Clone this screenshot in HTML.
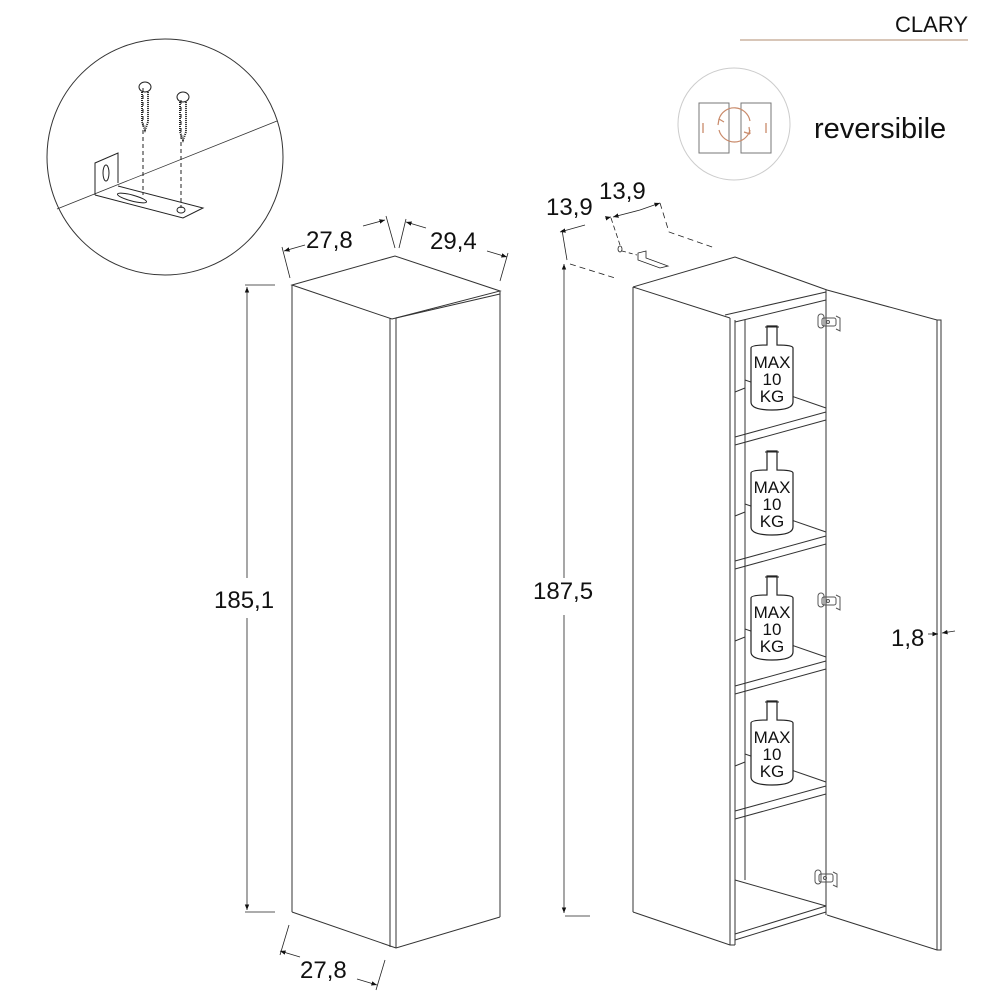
<!DOCTYPE html>
<html><head><meta charset="utf-8"><style>
html,body{margin:0;padding:0;background:#fff;}
svg{display:block;}
text{font-family:"Liberation Sans",sans-serif;fill:#111;}
</style></head><body>
<svg width="1000" height="1000" viewBox="0 0 1000 1000" xmlns="http://www.w3.org/2000/svg">
<defs>
<marker id="ar" viewBox="0 0 10 10" refX="10" refY="5" markerWidth="7" markerHeight="7" orient="auto-start-reverse"><path d="M0,1 L10,5 L0,9 z" fill="#111"/></marker>
<g id="bottle">
<path d="M767,0 L777,0 L777,19 Q793,19 793,22 L793,76 Q793,84 772,84 Q751,84 751,76 L751,22 Q751,19 767,19 Z" fill="#fff" stroke="#222" stroke-width="1.2"/>
<line x1="765" y1="1" x2="779" y2="1" stroke="#222"/>
<text x="772" y="42" font-size="17" text-anchor="middle">MAX</text>
<text x="772" y="59" font-size="17" text-anchor="middle">10</text>
<text x="772" y="76" font-size="17" text-anchor="middle">KG</text>
</g>
<g id="hinge" fill="none" stroke="#555" stroke-width="1">
<rect x="818" y="-8" width="6" height="14" rx="3"/>
<rect x="822" y="-4" width="14" height="8" rx="2"/>
<path d="M836,-6 L840,-4 L840,9 L836,7"/>
<circle cx="828" cy="0" r="1.5"/>
</g>
</defs>

<text x="968" y="32" font-size="22" text-anchor="end">CLARY</text>
<line x1="740" y1="40" x2="968" y2="40" stroke="#d8c6b8" stroke-width="2"/>

<circle cx="734" cy="124" r="56" fill="none" stroke="#ccc" stroke-width="1"/>
<rect x="699" y="103" width="30" height="50" fill="none" stroke="#777"/>
<rect x="741" y="103" width="30" height="50" fill="none" stroke="#777"/>
<line x1="703" y1="123" x2="703" y2="133" stroke="#c98a6a" stroke-width="1.3"/>
<line x1="766" y1="123" x2="766" y2="133" stroke="#c98a6a" stroke-width="1.3"/>
<path d="M719,119 A16,16 0 0 1 750,121" fill="none" stroke="#c98a6a" stroke-width="1.2"/>
<path d="M719,119 l-1,6 M719,119 l5,3" stroke="#c98a6a" stroke-width="1.2"/>
<path d="M750,130 A16,16 0 0 1 719,130" fill="none" stroke="#c98a6a" stroke-width="1.2"/>
<path d="M750,134 l-1,-7 M750,134 l-6,-2" stroke="#c98a6a" stroke-width="1.2"/>
<text x="814" y="138" font-size="29">reversibile</text>

<circle cx="165" cy="157" r="118" fill="none" stroke="#333" stroke-width="1"/>
<line x1="57" y1="209" x2="277" y2="121" stroke="#333" stroke-width="0.8"/>
<g stroke="#222" fill="none" stroke-width="1">
<path d="M95,195 L95,163 L118,153 L118,183"/>
<ellipse cx="106" cy="173" rx="3" ry="8"/>
<path d="M95,195 L183,218 L203,208 L118,186"/>
<ellipse cx="132" cy="198" rx="15" ry="3" transform="rotate(15 132 198)"/>
<ellipse cx="181" cy="210" rx="4" ry="3"/>
<line x1="143" y1="88" x2="143" y2="195" stroke-dasharray="4,3"/>
<line x1="181" y1="100" x2="181" y2="208" stroke-dasharray="4,3"/>
<ellipse cx="145" cy="87" rx="6" ry="5"/>
<path d="M142,92 L142,122 L145,130 L148,122 L148,92" stroke-width="2" stroke-dasharray="1,1"/>
<ellipse cx="183" cy="97" rx="6" ry="5"/>
<path d="M180,102 L180,132 L183,140 L186,132 L186,102" stroke-width="2" stroke-dasharray="1,1"/>
</g>

<g stroke="#333" fill="none" stroke-width="1">
<path d="M292,285 L395,256 L500,291 L392,319 Z"/>
<path d="M396,318 L500,294"/>
<line x1="292" y1="285" x2="292" y2="912"/>
<line x1="390" y1="318" x2="390" y2="947"/>
<line x1="396" y1="318" x2="396" y2="948"/>
<line x1="500" y1="291" x2="500" y2="917"/>
<path d="M292,912 L396,948 L500,917"/>
</g>
<g stroke="#222" stroke-width="0.8" fill="none">
<line x1="245" y1="285" x2="275" y2="285"/>
<line x1="245" y1="912" x2="275" y2="912"/>
<line x1="247" y1="287" x2="247" y2="578" marker-start="url(#ar)"/>
<line x1="247" y1="618" x2="247" y2="910" marker-end="url(#ar)"/>
<line x1="290" y1="278" x2="282" y2="247"/>
<line x1="395" y1="248" x2="386" y2="216"/>
<line x1="399" y1="248" x2="406" y2="219"/>
<line x1="500" y1="281" x2="508" y2="253"/>
<line x1="284" y1="251" x2="305" y2="245" marker-start="url(#ar)"/>
<line x1="363" y1="226" x2="385" y2="220" marker-end="url(#ar)"/>
<line x1="406" y1="222" x2="426" y2="228" marker-start="url(#ar)"/>
<line x1="487" y1="251" x2="507" y2="257" marker-end="url(#ar)"/>
<line x1="289" y1="925" x2="280" y2="955"/>
<line x1="385" y1="960" x2="376" y2="990"/>
<line x1="280" y1="951" x2="300" y2="957" marker-start="url(#ar)"/>
<line x1="357" y1="979" x2="377" y2="985" marker-end="url(#ar)"/>
</g>
<text x="306" y="248" font-size="24">27,8</text>
<text x="430" y="249" font-size="24">29,4</text>
<text x="214" y="608" font-size="24">185,1</text>
<text x="300" y="978" font-size="24">27,8</text>

<g stroke="#333" fill="none" stroke-width="1">
<path d="M633,287 L735,257 L827,290"/>
<path d="M633,287 L730,318"/>
<path d="M725,315 L826,292"/>
<path d="M735,322 L826,300"/>
<line x1="633" y1="287" x2="633" y2="912"/>
<line x1="730" y1="318" x2="730" y2="945"/>
<line x1="735" y1="320" x2="735" y2="945"/>
<line x1="745" y1="320" x2="745" y2="880"/>
<line x1="826" y1="290" x2="826" y2="915"/>
<path d="M633,912 L730,945 L735,945"/>
<path d="M827,290 L937,320 L941,320 L941,950 L937,950 L827,915"/>
<line x1="937" y1="320" x2="937" y2="950"/>
<path d="M735,940 L826,912"/>
<path d="M735,934 L826,906"/>
<path d="M735,880 L826,906"/>
</g>
<g stroke="#333" fill="none" stroke-width="1">
<path d="M735,437 L826,412 M735,445 L826,420 M735,392 L745,388 M745,380 L826,408"/>
<path d="M735,561 L826,536 M735,569 L826,544 M735,516 L745,512 M745,504 L826,532"/>
<path d="M735,686 L826,661 M735,694 L826,669 M735,641 L745,637 M745,629 L826,657"/>
<path d="M735,811 L826,786 M735,819 L826,794 M735,766 L745,762 M745,754 L826,782"/>
</g>
<use href="#bottle" transform="translate(0,326)"/>
<use href="#bottle" transform="translate(0,451)"/>
<use href="#bottle" transform="translate(0,576)"/>
<use href="#bottle" transform="translate(0,701)"/>
<use href="#hinge" transform="translate(0,322)"/>
<use href="#hinge" transform="translate(0,601)"/>
<use href="#hinge" transform="translate(-3,878)"/>

<g stroke="#222" stroke-width="0.8" fill="none">
<line x1="564" y1="264" x2="564" y2="578" marker-start="url(#ar)"/>
<line x1="564" y1="615" x2="564" y2="913" marker-end="url(#ar)"/>
<line x1="565" y1="916" x2="590" y2="916"/>
<path d="M570,264 L615,278" stroke-dasharray="6,4"/>
<path d="M562,230 L567,260"/>
<line x1="560" y1="232" x2="585" y2="225" marker-start="url(#ar)"/>
<line x1="607" y1="218" x2="611" y2="217" marker-end="url(#ar)"/>
<line x1="613" y1="217" x2="640" y2="210" marker-start="url(#ar)"/>
<line x1="640" y1="210" x2="660" y2="203" marker-end="url(#ar)"/>
<path d="M611,218 L620,245" stroke-dasharray="5,3"/>
<path d="M660,203 L669,232 L715,248" stroke-dasharray="6,4"/>
<path d="M622,251 L637,255" stroke-dasharray="4,3"/>
<ellipse cx="620" cy="249" rx="2" ry="3"/>
<path d="M638,253 L638,260 L660,268 L668,266 L646,258 L646,251 Z"/>
<line x1="928" y1="634" x2="938" y2="634" marker-end="url(#ar)"/>
<line x1="955" y1="631" x2="942" y2="633" marker-end="url(#ar)"/>
</g>
<text x="546" y="215" font-size="24">13,9</text>
<text x="599" y="199" font-size="24">13,9</text>
<text x="533" y="599" font-size="24">187,5</text>
<text x="891" y="646" font-size="24">1,8</text>
</svg>
</body></html>
